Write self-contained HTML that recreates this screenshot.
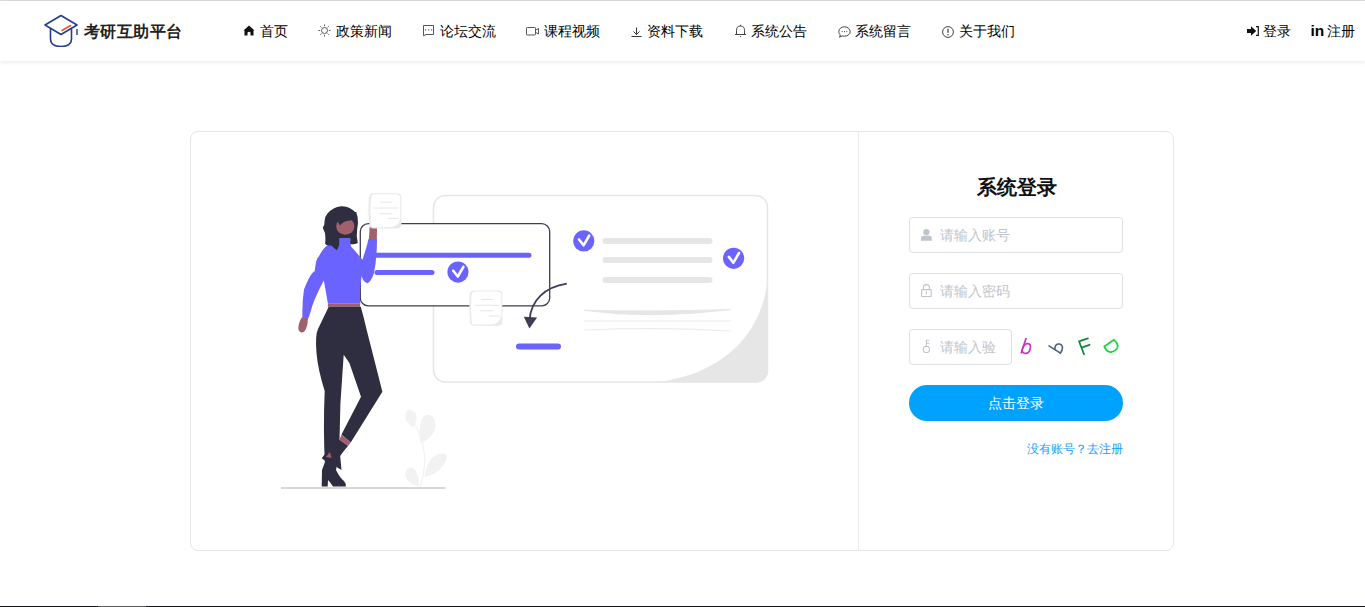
<!DOCTYPE html>
<html><head><meta charset="utf-8">
<style>
*{margin:0;padding:0;box-sizing:border-box}
html,body{width:1365px;height:607px;overflow:hidden;background:#fff;font-family:"Liberation Sans",sans-serif;color:#333}
.topline{position:absolute;left:0;top:0;width:1365px;height:1px;background:#dddfde}
.header{position:absolute;left:0;top:1px;width:1365px;height:60px;background:#fff;box-shadow:0 1px 4px rgba(0,20,40,.1)}
.logo{position:absolute;left:44px;top:13px}
.brand{position:absolute;left:84px;top:19px;font-size:16px;letter-spacing:0.45px;font-weight:bold;color:#222;white-space:nowrap;line-height:24px}
.nav{position:absolute;top:19px;left:0;font-size:14px;color:#000;font-weight:500;white-space:nowrap;line-height:22px}
.nav span{position:absolute;top:0}
.ico{position:absolute}
.card{position:absolute;left:190px;top:131px;width:984px;height:420px;border:1px solid #e6e6e6;border-radius:8px;background:#fff}
.divider{position:absolute;left:858px;top:132px;width:1px;height:418px;background:#eaeaea}
.title{position:absolute;left:859px;width:315px;top:174px;text-align:center;font-size:20px;font-weight:bold;color:#111;line-height:26px}
.inp{position:absolute;left:909px;width:214px;height:36px;border:1px solid #dcdfe6;border-radius:4px;background:#fff}
.ph{position:absolute;left:30px;top:8px;font-size:14px;color:#c0c4cc;line-height:18px;white-space:nowrap}
.btn{position:absolute;left:909px;top:385px;width:214px;height:36px;border-radius:18px;background:#00a2ff;color:#fff;font-size:14px;text-align:center;line-height:36px}
.link{position:absolute;left:1000px;width:123px;top:441px;text-align:right;font-size:12px;color:#1a9cf8;line-height:16px;white-space:nowrap}
.footer{position:absolute;left:0;top:606px;width:1365px;height:1px;background:#14171c}
</style></head><body>
<div class="topline"></div>
<div class="header">
<svg class="logo" width="36" height="34" viewBox="0 0 36 34" style="position:absolute;left:43px;top:12px">
<path d="M18 2.5 L34 12 L18 21.5 L2 12 Z" fill="none" stroke="#233f8c" stroke-width="1.6" stroke-linejoin="round"/>
<path d="M7.5 15.5 V26 Q7.5 33.5 18 33.5 Q28.5 33.5 28.5 26 V15.5" fill="none" stroke="#233f8c" stroke-width="1.6"/>
<path d="M34 16 V22" stroke="#233f8c" stroke-width="1.4"/>
<path d="M19 17.5 L27.5 12.5" stroke="#f0542a" stroke-width="1.6" stroke-linecap="round"/>
</svg>
<div class="brand">考研互助平台</div>
<div class="nav">
<svg class="ico" style="left:243px;top:5px" width="12" height="11" viewBox="0 0 12 11"><path d="M6 0.5 L11.5 5.5 L10.5 5.5 L10.5 10.5 L7.5 10.5 L7.5 7.5 Q6 6 4.5 7.5 L4.5 10.5 L1.5 10.5 L1.5 5.5 L0.5 5.5 Z" fill="#111"/></svg>
<span style="left:260px">首页</span>
<svg class="ico" style="left:318px;top:4px" width="13" height="13" viewBox="0 0 13 13" fill="none" stroke="#555" stroke-width="1"><circle cx="6.5" cy="6.5" r="3"/><path d="M6.5 0.5v1.6M6.5 10.9v1.6M0.5 6.5h1.6M10.9 6.5h1.6M2.3 2.3l1.1 1.1M9.6 9.6l1.1 1.1M2.3 10.7l1.1-1.1M9.6 3.4l1.1-1.1"/></svg>
<span style="left:336px">政策新闻</span>
<svg class="ico" style="left:422px;top:4px" width="13" height="13" viewBox="0 0 13 13" fill="none" stroke="#555" stroke-width="1"><path d="M1.5 1.5H11.5V10.5H4L1.5 11.8Z" stroke-linejoin="round"/><g fill="#666" stroke="none"><rect x="3" y="5.2" width="1.2" height="1.3"/><rect x="6" y="5.2" width="1.2" height="1.3"/><rect x="9" y="5.2" width="1.2" height="1.3"/></g></svg>
<span style="left:440px">论坛交流</span>
<svg class="ico" style="left:526px;top:7px" width="13" height="9" viewBox="0 0 13 9" fill="none" stroke="#555" stroke-width="1"><rect x="0.5" y="0.5" width="9" height="7.5" rx=".8"/><path d="M9.5 3.2 L12.5 1.5 V7 L9.5 5.3"/></svg>
<span style="left:544px">课程视频</span>
<svg class="ico" style="left:631px;top:7px" width="11" height="10" viewBox="0 0 11 10" fill="none" stroke="#333" stroke-width="1"><path d="M5.5 0.5v7M2.5 4.5l3 3 3-3M0.5 9.5h10"/></svg>
<span style="left:647px">资料下载</span>
<svg class="ico" style="left:734px;top:4px" width="13" height="14" viewBox="0 0 13 14" fill="none" stroke="#444" stroke-width="1"><path d="M2.5 10.5V6.5Q2.5 2 6.5 2Q10.5 2 10.5 6.5V10.5H12H1H2.5"/><path d="M6.5 0.8v1.2"/><circle cx="6.5" cy="12.6" r=".6" fill="#444" stroke="none"/></svg>
<span style="left:751px">系统公告</span>
<svg class="ico" style="left:838px;top:6px" width="13" height="12" viewBox="0 0 13 12" fill="none" stroke="#444" stroke-width="1"><path d="M6.5 0.8C3.3 0.8 0.8 2.9 0.8 5.6c0 1.3.6 2.5 1.6 3.4L1.5 11.2l2.8-1.3c.7.2 1.4.3 2.2.3 3.2 0 5.7-2.1 5.7-4.6S9.7 0.8 6.5 0.8z"/><circle cx="4.2" cy="5.6" r=".55" fill="#444" stroke="none"/><circle cx="6.5" cy="5.6" r=".55" fill="#444" stroke="none"/><circle cx="8.8" cy="5.6" r=".55" fill="#444" stroke="none"/></svg>
<span style="left:855px">系统留言</span>
<svg class="ico" style="left:942px;top:6px" width="12" height="12" viewBox="0 0 12 12" fill="none" stroke="#444" stroke-width="1"><circle cx="6" cy="6" r="5.4"/><path d="M6 2.8v4" stroke-width="1.3"/><circle cx="6" cy="8.8" r=".7" fill="#444" stroke="none"/></svg>
<span style="left:959px">关于我们</span>
<svg class="ico" style="left:1247px;top:6px" width="12" height="10" viewBox="0 0 12 10"><path d="M0 3h4V0.2L9.2 5 4 9.8V7H0z" fill="#111"/><path d="M9 0.6h2.3v8.8H9" fill="none" stroke="#111" stroke-width="1.2"/></svg>
<span style="left:1263px">登录</span>
<span style="left:1310.5px;font-weight:bold;font-size:15.5px;top:0px">in</span>
<span style="left:1327px">注册</span>
</div>
</div>
<div class="card"></div>
<div class="divider"></div>
<svg class="illus" width="1365" height="607" viewBox="0 0 1365 607" style="position:absolute;left:0;top:0">
<!-- big card -->
<rect x="433.5" y="195.5" width="334" height="186.5" rx="12" fill="#fff" stroke="#e6e6e6" stroke-width="1.6"/>
<path d="M768 276 C764 328 730 372 658 382.3 L756 382.3 Q768 382.3 768 370 Z" fill="#e6e6e6"/>
<!-- gray lines -->
<g stroke="#e6e6e6" stroke-width="6" stroke-linecap="round">
<line x1="605.5" y1="241" x2="709.5" y2="241"/>
<line x1="605.5" y1="260" x2="709.5" y2="260"/>
<line x1="605.5" y1="280" x2="709.5" y2="280"/>
</g>
<path d="M584 310.3 Q650 319.5 731 309.5 Q650 312 584 310.3 Z" fill="#e6e6e6" stroke="#e6e6e6" stroke-width="1"/>
<line x1="584" y1="321" x2="731" y2="321" stroke="#ececec" stroke-width="1.2"/>
<path d="M584 330 Q660 327 731 331" fill="none" stroke="#ececec" stroke-width="1.2"/>
<rect x="360.3" y="223.6" width="189.4" height="82.3" rx="8" fill="#fff" stroke="#3f3d56" stroke-width="1.3"/>
<!-- check circles -->
<g fill="#6a63ff"><circle cx="583.8" cy="240.9" r="10.6"/><circle cx="733.6" cy="258.3" r="10.6"/><circle cx="458" cy="272.1" r="10.6"/></g>
<g fill="none" stroke="#fff" stroke-width="2.6" stroke-linecap="round" stroke-linejoin="round">
<path d="M579 239.5 L583.6 245.3 L589.2 235.6"/>
<path d="M728.8 256.9 L733.4 262.7 L739 253"/>
<path d="M453.2 270.7 L457.8 276.5 L463.4 266.8"/>
</g>
<!-- dark box -->

<g stroke="#6a63ff" stroke-width="5" stroke-linecap="round">
<line x1="374" y1="255.2" x2="529" y2="255.2"/>
<line x1="377" y1="272.5" x2="432" y2="272.5"/>
<line x1="519" y1="346.4" x2="558" y2="346.4" stroke-width="6"/>
</g>
<!-- arrow -->
<path d="M566.8 283.6 C545 287 531 300 529.5 320" fill="none" stroke="#3f3d56" stroke-width="1.8"/>
<path d="M523.8 316.7 L537.1 317.5 L529.4 328.6 Z" fill="#3f3d56"/>
<!-- paper note 2 -->
<path d="M473.5 290.5 H498 Q502.4 290.5 502.4 294.5 V321.5 Q502.4 325.7 498 325.7 H474 Q470.3 325.7 470 322 Q468.8 308 469.5 295 Q470 290.5 473.5 290.5 Z" fill="#e9e9e9"/>
<path d="M474.5 291.5 H497.8 Q501.3 291.5 501.3 295 V315.5 Q500 324.6 490 324.6 H474.5 Q471.7 324.6 471.5 321.5 Q470.5 308 471.3 296 Q471.7 291.5 474.5 291.5 Z" fill="#fff"/>
<g stroke="#e6e6e6" stroke-width="1"><line x1="481" y1="299.4" x2="493" y2="299.4"/><line x1="474.5" y1="305.3" x2="499.5" y2="305.3"/><line x1="480" y1="310.8" x2="493" y2="310.8"/><line x1="489" y1="316" x2="499.5" y2="316"/></g>
<!-- plant -->
<g fill="#f2f2f2">
<path d="M413.5 427.5 Q405 423 405.5 415 Q406 409.5 410 410 Q414 410.5 416 414 Q418 420 413.5 427.5 Z"/>
<path d="M420.5 443 Q418 430 421.5 420 Q424.5 413.5 430 415 Q435 417 435.5 425 Q435 437 420.5 443 Z"/>
<path d="M424.5 477 Q426 465 432 458 Q439 452 446 454 Q448 458 444 464 Q437 475 424.5 477 Z"/>
<path d="M418.5 486.5 Q408 484 405.5 476 Q405 469 409.5 467.5 Q414 467 416.5 472 Q419.5 479 418.5 486.5 Z"/>
</g>
<path d="M411 418 Q426 440 424.5 466 Q423.5 478 420 487.5" fill="none" stroke="#f2f2f2" stroke-width="1.2"/>
<!-- ground -->
<line x1="281" y1="488" x2="445.5" y2="488" stroke="#cbcbcb" stroke-width="1.6"/>
<!-- woman -->
<!-- sweater -->
<path d="M339 237.5 L350 237.5 L351 246.6 Q357 253 362.5 259.8 L366.6 246.6 L368.5 239 L377 239 Q377 258 374 273 Q371 282 367.4 283.2 Q363 282 361.7 276 Q359 295 360.5 303.5 L327.9 303.5 Q326 292 323.8 280.4 Q316 295 312.2 305.9 Q309 318 307.3 319.9 L302.4 317.4 Q302 302 304 289.4 Q311 272 314.7 271.3 Q316 258 318.8 256.5 Q323 248 327.9 245 Q333 241 339 240 Z" fill="#6a63ff"/>
<!-- hair back -->
<path d="M341 206.2 Q347 206 352 209.5 Q356.5 212 357.6 217 Q358.6 223 357.2 229 Q356 236 357.8 243 Q354 245 350.2 244 L350.2 238 L339.2 238 L339.2 245 L337 250.3 Q333 247.5 331.5 245.5 Q327 246 325.2 244 Q325.8 238 325 233 Q323.5 230 322.8 227.5 Q324.8 225 324.6 221 Q325 216 327.5 213.5 Q333 207 341 206.2 Z" fill="#2f2e41"/>
<!-- face -->
<ellipse cx="345.3" cy="226.2" rx="9.1" ry="8.5" fill="#a0616a"/>
<!-- bangs -->
<path d="M334.5 213 L334.8 218 Q337 220 340 225.5 Q343 221.5 347 221 Q351 220.2 356.5 220 L356.5 212 Z" fill="#2f2e41"/>
<!-- raised hand -->
<path d="M369.5 228 Q370 224.5 373.5 225 Q377.5 226 377 230 L376.8 239.5 L368.8 239.5 Q369.5 233 369.5 228 Z" fill="#a0616a"/>
<!-- belt -->
<rect x="327.9" y="303.4" width="32.2" height="3.4" fill="#a0616a"/>
<!-- left hand -->
<path d="M302.2 317 L307.8 318.5 Q308 327 304 332 Q299.5 333.5 298.3 329 Q298.5 322 302.2 317 Z" fill="#a0616a"/>
<!-- pants -->
<path d="M328.7 306.7 L360.8 306.7 Q364 318 366.7 330 L382.4 391.8 L350.7 442.4 L341.5 434.5 L361 396.7 L349.4 363 L343.7 354.7 L340.4 404 L339.5 440 L338 464 L325 464 Q323 430 324.7 391 Q318 370 316.5 353 Q315 335 318 329 Z" fill="#2f2e41"/>
<!-- ankle -->
<path d="M341.5 434.5 L350.7 442.4 L348 446 L339.5 439.8 Z" fill="#a0616a"/>
<!-- right boot -->
<path d="M339.5 439.8 L348 446 Q342 453 340.2 456 L341.5 470 L336.5 467 L334 461 L325 460.8 L321.7 458.2 Q330 447 339.5 439.8 Z" fill="#2f2e41"/>
<path d="M326 457 L330 452 L331.5 458 Z" fill="#a0616a"/>
<!-- left boot -->
<path d="M325 462 L337.5 462 L336 470 Q340 478 344 481 Q346.5 484 345.8 486.5 L333 486.5 Q330 482 328 480 L327.7 486.5 L321.7 486.5 L322 470 Z" fill="#2f2e41"/>
<!-- paper note 1 (held) -->
<path d="M373.5 193.2 H397 Q401.4 193.2 401.4 197.5 V224 Q401.4 228.4 397 228.4 H373.5 Q369.6 228.4 369.3 224.5 Q367.8 211 368.8 198.5 Q369.3 193.2 373.5 193.2 Z" fill="#e9e9e9"/>
<path d="M374.5 194.3 H396.8 Q400.3 194.3 400.3 197.8 V219 Q399 227.3 388 227.3 H374 Q371.2 227.3 371 224 Q369.8 211 370.8 199 Q371.2 194.3 374.5 194.3 Z" fill="#fff"/>
<g stroke="#e6e6e6" stroke-width="1"><line x1="380" y1="202.1" x2="392" y2="202.1"/><line x1="373.5" y1="208" x2="398.6" y2="208"/><line x1="380" y1="213.8" x2="392" y2="213.8"/><line x1="388" y1="218.4" x2="398.6" y2="218.4"/></g>
</svg>
<div class="title">系统登录</div>
<div class="inp" style="top:217px"><svg style="position:absolute;left:11px;top:8px" width="14" height="17" viewBox="921 226 14 17"><circle cx="926.4" cy="232.1" r="3.2" fill="#c0c4cc"/><path d="M921 240.8 V238 Q921 235.8 923.5 235.8 H929.3 Q931.8 235.8 931.8 238 V240.8 Z" fill="#c0c4cc"/></svg><div class="ph">请输入账号</div></div>
<div class="inp" style="top:273px"><svg style="position:absolute;left:11px;top:8px" width="14" height="17" viewBox="921 282 14 17" fill="none" stroke="#c0c4cc" stroke-width="1.1"><path d="M923.4 289.6 V287.5 Q923.4 284.6 926.4 284.6 Q929.4 284.6 929.4 287.5 V289.6"/><rect x="921.6" y="289.6" width="9.6" height="6.9" rx=".6"/><path d="M926.4 291.3 V294.6"/></svg><div class="ph">请输入密码</div></div>
<div class="inp" style="top:329px;width:103px"><svg style="position:absolute;left:11px;top:8px" width="14" height="17" viewBox="921 338 14 17" fill="none" stroke="#c0c4cc" stroke-width="1.1"><circle cx="926.4" cy="349.4" r="3.1"/><path d="M926.4 346.3 V340.2 H929.3 M926.4 343.3 H929.3"/></svg><div class="ph">请输入验</div></div>
<svg style="position:absolute;left:1012px;top:330px" width="120" height="32" viewBox="1012 330 120 32" fill="none" stroke-linecap="round" stroke-linejoin="round">
<g stroke="#d02fc6" stroke-width="1.7"><path d="M1026 338.6 L1021.3 352.8"/><path d="M1022.6 348 Q1024.5 343.3 1028 343.6 Q1031 344 1030.3 348.3 Q1029.3 353.3 1025.6 353.4 Q1022 353.4 1022.2 349.8"/></g>
<g stroke="#4a6480" stroke-width="1.6"><path d="M1049 345.9 L1060.4 353.1"/><path d="M1055 349.5 Q1054.5 345 1058 344 Q1062 343.5 1062.5 347.5 Q1062.5 350.5 1060.4 353.1"/></g>
<g stroke="#12883e" stroke-width="1.8"><path d="M1087.9 338.4 L1079 341.3 L1084 354.3"/><path d="M1082.4 347.4 L1089.5 344.8"/></g>
<g stroke="#22d03c" stroke-width="1.8"><path d="M1104.3 346.6 L1114 339.8 Q1118.5 344 1117.5 347.5 Q1116 351 1111.1 352 Q1107 352.5 1104.3 346.6 Z"/></g>
</svg>
<div class="btn">点击登录</div>
<div class="link">没有账号？去注册</div>
<div class="footer"></div><div style="position:absolute;left:98px;top:606px;width:48px;height:1px;background:#5a5c60"></div>
</body></html>
